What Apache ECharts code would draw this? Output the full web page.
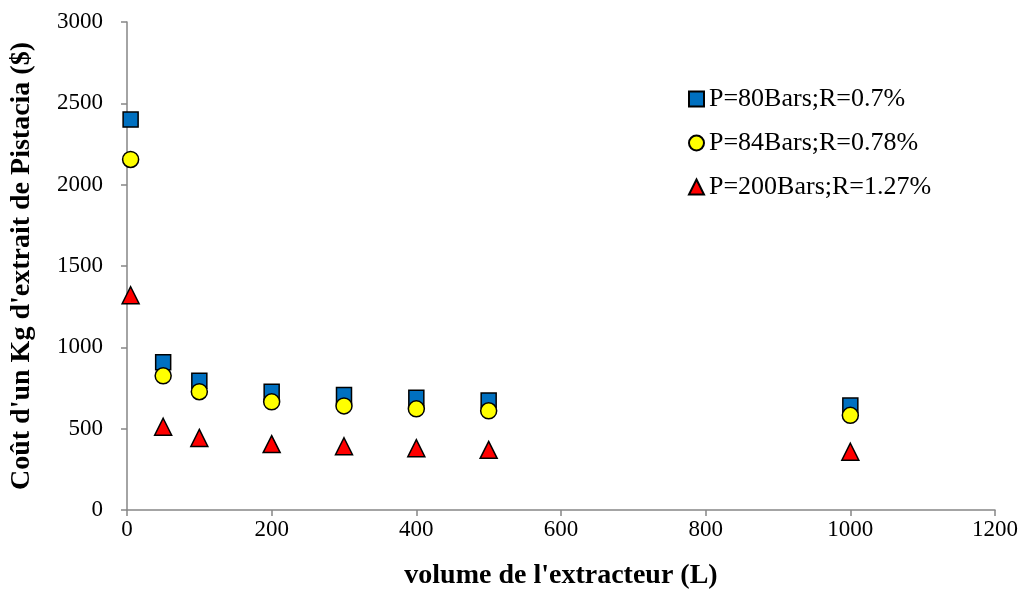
<!DOCTYPE html>
<html><head><meta charset="utf-8">
<script src="https://cdn.jsdelivr.net/npm/echarts@6/dist/echarts.min.js"></script>
<style>html,body{margin:0;padding:0;background:#fff}#c{width:1026px;height:595px}</style>
</head><body><div id="c"></div>
<script>
const volumes = [5, 50, 100, 200, 300, 400, 500, 1000];
const s80 = [2400, 908, 795, 727, 707, 690, 673, 642];
const s84 = [2155, 825, 727, 665, 640, 622, 610, 582];
const s200 = [1320, 512, 443, 405, 392, 380, 370, 358];
const seriesNames = ['P=80Bars;R=0.7%', 'P=84Bars;R=0.78%', 'P=200Bars;R=1.27%'];
const font = '"Liberation Serif", "Times New Roman", serif';
const pairs = a => volumes.map((v, i) => [v, a[i]]);
const chart = echarts.init(document.getElementById('c'));
const axisLine = {show: true, lineStyle: {color: '#868686', width: 1.5}};
const tick = {show: true, length: 6, lineStyle: {color: '#868686', width: 1.5}};
chart.setOption({
  animation: false,
  backgroundColor: '#fff',
  grid: {left: 125, right: 31, top: 22, bottom: 83},
  xAxis: {
    type: 'value', min: 0, max: 1200, interval: 200,
    name: "volume de l'extracteur (L)", nameLocation: 'middle', nameGap: 52,
    nameTextStyle: {fontFamily: font, fontSize: 28, fontWeight: 'bold', color: '#000'},
    axisLine: axisLine, axisTick: tick,
    axisLabel: {fontFamily: font, fontSize: 23, color: '#000', margin: 8, formatter: v => String(v)},
    splitLine: {show: false}
  },
  yAxis: {
    type: 'value', min: 0, max: 3000, interval: 500,
    name: "Coût d'un Kg d'extrait de Pistacia ($)", nameLocation: 'middle', nameGap: 91,
    nameTextStyle: {fontFamily: font, fontSize: 28, fontWeight: 'bold', color: '#000'},
    axisLine: axisLine, axisTick: tick,
    axisLabel: {fontFamily: font, fontSize: 23, color: '#000', margin: 24, formatter: v => String(v)},
    splitLine: {show: false}
  },
  legend: {
    orient: 'vertical', left: 683, top: 81, itemGap: 18,
    itemWidth: 15, itemHeight: 15,
    textStyle: {fontFamily: font, fontSize: 26, color: '#000'},
    data: seriesNames
  },
  series: [
    {name: seriesNames[0], type: 'scatter', symbol: 'rect', symbolSize: 15, data: pairs(s80),
     itemStyle: {color: '#0070C0', borderColor: '#000', borderWidth: 1.5, opacity: 1}},
    {name: seriesNames[1], type: 'scatter', symbol: 'circle', symbolSize: 16, data: pairs(s84),
     itemStyle: {color: '#FFFF00', borderColor: '#000', borderWidth: 1.5, opacity: 1}},
    {name: seriesNames[2], type: 'scatter', symbol: 'triangle', symbolSize: 17, data: pairs(s200),
     itemStyle: {color: '#FF0000', borderColor: '#000', borderWidth: 1.5, opacity: 1}}
  ]
});
</script></body></html>
